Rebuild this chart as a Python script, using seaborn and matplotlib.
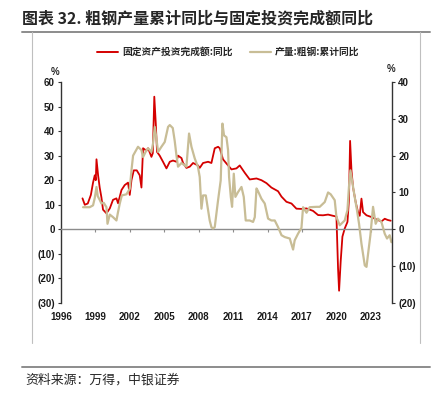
import pandas as pd
import numpy as np
import seaborn as sns
import matplotlib.pyplot as plt
from matplotlib.lines import Line2D

# 固定资产投资完成额:同比 (左轴, %)
fai_year = [1997.87, 1998.07, 1998.33, 1998.6, 1998.79, 1998.94, 1999.03, 1999.09, 1999.23, 1999.37,
            1999.52, 1999.66, 1999.96, 2000.25, 2000.53, 2000.83, 2000.97, 2001.27, 2001.55, 2001.84,
            2001.99, 2002.14, 2002.34, 2002.6, 2002.86, 2003.01, 2003.15, 2003.45, 2003.59, 2003.88,
            2004.0, 2004.13, 2004.26, 2004.37, 2004.6, 2004.89, 2005.19, 2005.48, 2005.76, 2006.06,
            2006.2, 2006.5, 2006.64, 2006.93, 2007.22, 2007.51, 2007.94, 2008.09, 2008.38, 2008.82,
            2009.11, 2009.4, 2009.69, 2009.84, 2010.12, 2010.42, 2010.86, 2011.29, 2011.58, 2012.02,
            2012.45, 2013.04, 2013.47, 2013.91, 2014.34, 2014.92, 2015.22, 2015.65, 2016.09, 2016.52,
            2016.96, 2017.4, 2017.97, 2018.41, 2018.84, 2019.28, 2019.71, 2020.01, 2020.15, 2020.24,
            2020.38, 2020.53, 2020.73, 2020.97, 2021.1, 2021.2, 2021.32, 2021.46, 2021.69, 2021.89,
            2022.04, 2022.19, 2022.33, 2022.63, 2023.06, 2023.5, 2023.93, 2024.22, 2024.48, 2024.74]
fai_yoy = [12.6, 10, 10.5, 14, 19, 22, 20, 28.5, 22, 17,
           13, 8, 6.5, 8.5, 12, 12.6, 10.6, 16, 18, 19,
           14, 20, 24, 24, 22, 17, 33, 32, 33, 29.5,
           31, 54, 43, 31.5, 30, 27.5, 24.8, 27.5, 28, 27.5,
           30, 29, 27, 25, 25.5, 27, 26, 25, 27, 27.5,
           27, 33, 33.6, 33, 28.5, 26.8, 24.4, 24.8, 26, 23,
           20.3, 20.7, 20, 18.8, 17, 15.5, 13.3, 11.2, 10.5, 8.4,
           8.3, 8.5, 7.5, 5.8, 5.7, 6.0, 5.5, 5.2, -16, -25,
           -13, -3, 0.3, 3, 12, 36, 24, 17, 11, 7,
           5.5, 12.5, 7, 5.7, 5.0, 4.0, 3.2, 4.3, 3.8, 3.5]

# 产量:粗钢:累计同比 (右轴, %)
steel_year = [1997.92, 1998.21, 1998.5, 1998.79, 1998.94, 1999.09, 1999.2, 1999.37, 1999.52, 1999.72,
              1999.96, 2000.05, 2000.25, 2000.53, 2000.83, 2000.97, 2001.12, 2001.3, 2001.7, 2001.99,
              2002.14, 2002.28, 2002.71, 2003.01, 2003.15, 2003.45, 2003.59, 2003.88, 2004.02, 2004.17,
              2004.3, 2004.46, 2004.75, 2005.04, 2005.33, 2005.48, 2005.74, 2005.91, 2006.06, 2006.2,
              2006.5, 2006.93, 2007.16, 2007.37, 2007.66, 2007.94, 2008.09, 2008.24, 2008.38, 2008.62,
              2008.82, 2008.96, 2009.11, 2009.25, 2009.4, 2009.69, 2009.92, 2010.07, 2010.21, 2010.42,
              2010.56, 2010.65, 2010.8, 2010.91, 2011.06, 2011.2, 2011.43, 2011.73, 2011.93, 2012.1,
              2012.45, 2012.74, 2012.89, 2013.04, 2013.15, 2013.47, 2013.76, 2014.05, 2014.34, 2014.63,
              2014.92, 2015.22, 2015.5, 2015.94, 2016.23, 2016.37, 2016.66, 2016.96, 2017.1, 2017.4,
              2017.68, 2018.27, 2018.55, 2018.99, 2019.28, 2019.51, 2019.86, 2020.01, 2020.3, 2020.73,
              2020.97, 2021.1, 2021.23, 2021.46, 2021.6, 2021.8, 2021.98, 2022.19, 2022.48, 2022.63,
              2022.77, 2022.97, 2023.2, 2023.43, 2023.63, 2023.93, 2024.22, 2024.42, 2024.65, 2024.8]
steel_yoy = [6, 6, 6, 6.5, 8.5, 11.5, 9, 8, 7, 7.2,
             6, 1.5, 4, 3.3, 2.4, 4.7, 7, 9.2, 9.5, 11,
             16, 20, 22.4, 21.5, 19.6, 21.5, 22, 21, 23.3, 27.8,
             25, 21, 22.4, 23.7, 27.8, 28.3, 27.5, 24, 20.1, 17,
             18, 17, 26, 22.4, 19.2, 16.9, 14.2, 5.6, 9.2, 9.2,
             5.2, 2.4, 0.6, 0.2, 0.6, 7.9, 13.3, 28.7, 25.5, 25,
             21.5, 14.2, 8.8, 6.1, 15.1, 8.8, 10.1, 11.5, 8.8, 2.4,
             2.4, 2.0, 3.3, 11.1, 10.5, 8.3, 7, 2.9, 2.4, 2.4,
             0.6, -1.6, -2.1, -2.5, -5.5, -3, -1.2, 0.4, 6, 4.5,
             6, 6.1, 6.1, 7.4, 10, 9.5, 7.9, 3.3, 1.1, 2.4,
             5.2, 11.5, 16, 11.5, 8.8, 5.2, 1.5, -3.9, -9.8, -10.2,
             -6.6, -1.6, 6.1, 1.5, 2.9, 2.0, -1.2, -2.5, -1.6, -3.5]

x_ticks = [1996, 1999, 2002, 2005, 2008, 2011, 2014, 2017, 2020, 2023]
left_ticks = [60, 50, 40, 30, 20, 10, 0, -10, -20, -30]
right_ticks = [40, 30, 20, 10, 0, -10, -20]

red = '#D40000'
beige = '#C8BD96'


def fmt(v):
    return f"({abs(v)})" if v < 0 else f"{v}"


sns.set_theme(style='white')
plt.rcParams['font.family'] = ['Liberation Sans', 'Noto Sans CJK SC', 'DejaVu Sans']
cjk = ['Noto Sans CJK SC', 'DejaVu Sans']

fai = pd.DataFrame({'year': fai_year, 'yoy': fai_yoy})
steel = pd.DataFrame({'year': steel_year, 'yoy': steel_yoy})

fig = plt.figure(figsize=(4.36, 3.94), dpi=100)
ax = fig.add_axes([0.140, 0.231, 0.759, 0.561])
ax2 = ax.twinx()

sns.lineplot(data=fai, x='year', y='yoy', ax=ax, color=red, lw=1.3, sort=False)
sns.lineplot(data=steel, x='year', y='yoy', ax=ax2, color=beige, lw=1.6, sort=False)

ax.set_xlim(1996, 2024.85)
ax.set_ylim(-30, 60)
ax2.set_ylim(-20, 40)
ax.set_xlabel('')
ax.set_ylabel('')
ax2.set_ylabel('')

for a in (ax, ax2):
    for s in ('top', 'left', 'right', 'bottom'):
        a.spines[s].set_visible(False)

ax.spines['left'].set_visible(True)
ax.spines['left'].set_color('#333333')
ax.spines['left'].set_linewidth(1.0)
ax2.spines['right'].set_visible(True)
ax2.spines['right'].set_color('#333333')
ax2.spines['right'].set_linewidth(1.0)

ax.spines['bottom'].set_visible(True)
ax.spines['bottom'].set_position(('data', 0))
ax.spines['bottom'].set_color('#8C8C8C')
ax.spines['bottom'].set_linewidth(1.0)

ax.set_xticks(x_ticks)
ax.set_xticklabels([str(t) for t in x_ticks])
ax.set_yticks(left_ticks)
ax.set_yticklabels([fmt(t) for t in left_ticks])
ax2.set_yticks(right_ticks)
ax2.set_yticklabels([fmt(t) for t in right_ticks])

ax.tick_params(axis='x', direction='out', length=2.5, width=0.8, color='#8C8C8C',
               pad=57, labelsize=7, bottom=True)
ax.tick_params(axis='y', direction='out', length=2.5, width=0.8, color='#333333',
               pad=2, labelsize=7, left=True)
ax2.tick_params(axis='y', direction='out', length=2.5, width=0.8, color='#333333',
                pad=2, labelsize=7, right=True)
for lab in ax.get_xticklabels() + ax.get_yticklabels() + ax2.get_yticklabels():
    lab.set_fontweight('bold')
    lab.set_color('#1A1A1A')
ax.grid(False)
ax2.grid(False)

ax.text(55 / 436, 1 - 72 / 394, '%', transform=fig.transFigure, ha='center', va='center',
        fontsize=7, fontweight='bold')
ax.text(391 / 436, 1 - 69 / 394, '%', transform=fig.transFigure, ha='center', va='center',
        fontsize=7, fontweight='bold')

handles = [Line2D([], [], color=red, lw=1.4), Line2D([], [], color=beige, lw=1.6)]
fig.legend(handles, ['固定资产投资完成额:同比', '产量:粗钢:累计同比'],
           loc='center', bbox_to_anchor=(0.523, 1 - 52 / 394), ncol=2, frameon=False,
           prop={'family': cjk, 'size': 7, 'weight': 'bold'},
           handlelength=2.2, handletextpad=0.4, columnspacing=1.8)

# 标题与框线
fig.text(22 / 436, 1 - 18 / 394, '图表 32. 粗钢产量累计同比与固定投资完成额同比',
         family=cjk, fontsize=11.5, fontweight='bold', ha='left', va='center')
fig.add_artist(Line2D([22 / 436, 430 / 436], [1 - 32 / 394] * 2, color='#8C8C8C', lw=1.4))
fig.add_artist(Line2D([32 / 436] * 2, [1 - 32 / 394, 1 - 343 / 394], color='#BFBFBF', lw=0.8))
fig.add_artist(Line2D([420 / 436] * 2, [1 - 32 / 394, 1 - 343 / 394], color='#BFBFBF', lw=0.8))
fig.add_artist(Line2D([22 / 436, 430 / 436], [1 - 367 / 394] * 2, color='#8C8C8C', lw=1.4))
fig.text(25 / 436, 1 - 380 / 394, '资料来源：万得，中银证券', family=cjk, fontsize=9.3,
         style='italic', ha='left', va='center')

fig.savefig('out.png', dpi=100)
